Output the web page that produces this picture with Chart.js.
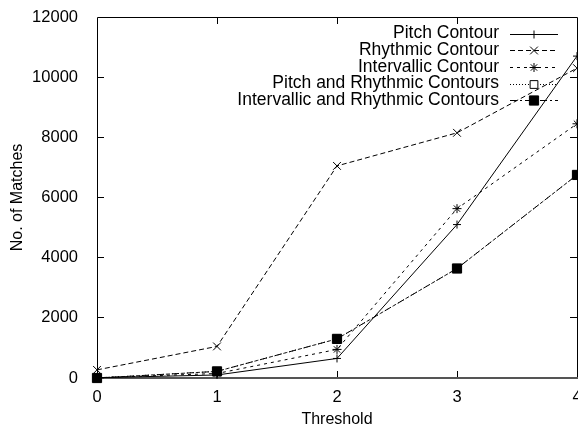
<!DOCTYPE html>
<html>
<head>
<meta charset="utf-8">
<script src="https://cdn.jsdelivr.net/npm/chart.js@4/dist/chart.umd.min.js"></script>
<style>
  html, body { margin: 0; padding: 0; background: #fff; }
  #wrap { width: 578px; height: 427px; }
</style>
</head>
<body>
<div id="wrap"><canvas id="chart" width="578" height="427"></canvas></div>
<script>
// values
const thresholds = [0, 1, 2, 3, 4];
const pitchContour = [10, 100, 650, 5100, 10700];
const rhythmicContour = [270, 1050, 7050, 8150, 10300];
const intervallicContour = [10, 150, 950, 5630, 8450];
const pitchRhythmic = [0, 220, 1300, 3640, 6750];
const intervallicRhythmic = [0, 220, 1300, 3640, 6750];
const seriesNames = [
  'Pitch Contour',
  'Rhythmic Contour',
  'Intervallic Contour',
  'Pitch and Rhythmic Contours',
  'Intervallic and Rhythmic Contours'
];
const yTickValues = [0, 2000, 4000, 6000, 8000, 10000, 12000];

const FONT = "'Liberation Sans', Arial, Helvetica, sans-serif";
const FSIZE = 16.5;
const KEY_SIZE = 17.5;
const TITLE_SIZE = 16;

const toPoints = vals => vals.map((v, i) => ({ x: thresholds[i], y: v }));

// small marker painter for the key (same shapes Chart.js uses)
function drawMarker(ctx, style, x, y, r, fill) {
  ctx.beginPath();
  if (style === 'cross') {
    ctx.moveTo(x - r, y); ctx.lineTo(x + r, y);
    ctx.moveTo(x, y - r); ctx.lineTo(x, y + r);
    ctx.stroke();
  } else if (style === 'crossRot') {
    const d = r * Math.SQRT1_2;
    ctx.moveTo(x - d, y - d); ctx.lineTo(x + d, y + d);
    ctx.moveTo(x - d, y + d); ctx.lineTo(x + d, y - d);
    ctx.stroke();
  } else if (style === 'star') {
    const d = r * Math.SQRT1_2;
    ctx.moveTo(x - r, y); ctx.lineTo(x + r, y);
    ctx.moveTo(x, y - r); ctx.lineTo(x, y + r);
    ctx.moveTo(x - d, y - d); ctx.lineTo(x + d, y + d);
    ctx.moveTo(x - d, y + d); ctx.lineTo(x + d, y - d);
    ctx.stroke();
  } else if (style === 'rect') {
    const s = r * Math.SQRT1_2;
    ctx.rect(x - s, y - s, 2 * s, 2 * s);
    ctx.fillStyle = fill;
    ctx.fill();
    ctx.stroke();
  }
}

// gnuplot style border with inward ticks on all four sides
const frameTicks = {
  id: 'frameTicks',
  beforeDatasetsDraw(chart) {
    const { ctx, chartArea: a, scales: { x, y } } = chart;
    const px = v => Math.floor(v) + 0.5;
    const tick = 7;
    ctx.save();
    ctx.strokeStyle = '#000';
    ctx.lineWidth = 1;
    ctx.beginPath();
    ctx.moveTo(px(a.left), px(a.bottom));
    ctx.lineTo(px(a.left), px(a.top));
    ctx.lineTo(px(a.right), px(a.top));
    ctx.lineTo(px(a.right), px(a.bottom));
    yTickValues.slice(1, -1).forEach(v => {
      const yy = px(y.getPixelForValue(v));
      ctx.moveTo(a.left, yy); ctx.lineTo(a.left + tick, yy);
      ctx.moveTo(a.right, yy); ctx.lineTo(a.right - tick, yy);
    });
    thresholds.slice(1, -1).forEach(v => {
      const xx = px(x.getPixelForValue(v));
      ctx.moveTo(xx, a.bottom); ctx.lineTo(xx, a.bottom - tick);
      ctx.moveTo(xx, a.top); ctx.lineTo(xx, a.top + tick);
    });
    ctx.stroke();
    // bottom edge looks heavier in the original
    ctx.beginPath();
    ctx.strokeStyle = '#555';
    ctx.lineWidth = 2;
    ctx.moveTo(a.left, a.bottom);
    ctx.lineTo(a.right + 1, a.bottom);
    ctx.stroke();
    ctx.restore();
  }
};

// key in the top right corner: text right aligned, line sample on the right
const keyBox = {
  id: 'keyBox',
  afterDatasetsDraw(chart) {
    const { ctx, chartArea: a } = chart;
    const textRight = a.right - 78;
    const lineFrom = a.right - 67;
    const lineTo = a.right - 19;
    const mid = (lineFrom + lineTo) / 2;
    ctx.save();
    ctx.font = KEY_SIZE + 'px ' + FONT;
    ctx.textAlign = 'right';
    ctx.textBaseline = 'middle';
    chart.data.datasets.forEach((ds, i) => {
      const yy = a.top + 16.5 + i * 16.7;
      ctx.fillStyle = '#000';
      ctx.fillText(ds.label, textRight, yy);
      ctx.strokeStyle = '#000';
      ctx.lineWidth = 1;
      ctx.setLineDash(ds.borderDash || []);
      ctx.beginPath();
      ctx.moveTo(lineFrom, Math.round(yy) + 0.5);
      ctx.lineTo(lineTo, Math.round(yy) + 0.5);
      ctx.stroke();
      ctx.setLineDash([]);
      drawMarker(ctx, ds.pointStyle, mid, Math.round(yy) + 0.5, ds.pointRadius, ds.pointBackgroundColor);
    });
    ctx.restore();
  }
};

const baseSet = {
  borderColor: '#000',
  borderWidth: 1,
  pointBorderColor: '#000',
  pointBorderWidth: 1,
  fill: false,
  tension: 0,
  clip: false
};

const ctx = document.getElementById('chart').getContext('2d');
new Chart(ctx, {
  type: 'line',
  data: {
    datasets: [
      { ...baseSet, label: seriesNames[0], data: toPoints(pitchContour),
        borderDash: [], pointStyle: 'cross', pointRadius: 4, pointBackgroundColor: '#000', order: 1 },
      { ...baseSet, label: seriesNames[1], data: toPoints(rhythmicContour),
        borderDash: [5, 3], pointStyle: 'crossRot', pointRadius: 5.5, pointBackgroundColor: '#000', order: 2 },
      { ...baseSet, label: seriesNames[2], data: toPoints(intervallicContour),
        borderDash: [3, 4], pointStyle: 'star', pointRadius: 4.5, pointBackgroundColor: '#000', order: 3 },
      { ...baseSet, label: seriesNames[3], data: toPoints(pitchRhythmic),
        borderDash: [1, 2], pointStyle: 'rect', pointRadius: 5.5, pointBackgroundColor: '#fff', order: 9 },
      { ...baseSet, label: seriesNames[4], data: toPoints(intervallicRhythmic),
        borderDash: [7, 3, 2, 3], pointStyle: 'rect', pointRadius: 6.5, pointBackgroundColor: '#000', order: 5 }
    ]
  },
  options: {
    responsive: false,
    animation: false,
    events: [],
    layout: { autoPadding: false, padding: { top: 17, right: 1, left: 0, bottom: 0 } },
    plugins: {
      legend: { display: false },
      tooltip: { enabled: false }
    },
    scales: {
      x: {
        type: 'linear',
        min: 0,
        max: 4,
        grid: { display: false },
        border: { display: false },
        ticks: { stepSize: 1, color: '#000', padding: 2, maxRotation: 0,
                 font: { family: FONT, size: FSIZE } },
        title: { display: true, text: 'Threshold', color: '#000', padding: { top: 0, bottom: -1 },
                 font: { family: FONT, size: TITLE_SIZE, lineHeight: 1 } },
        afterFit(scale) { scale.height = 49; scale.paddingLeft = 0; scale.paddingRight = 0; }
      },
      y: {
        min: 0,
        max: 12000,
        grid: { display: false },
        border: { display: false },
        ticks: { stepSize: 2000, color: '#000', padding: 11, format: { useGrouping: false },
                 font: { family: FONT, size: FSIZE } },
        title: { display: true, text: 'No. of Matches', color: '#000', padding: { top: 10 },
                 font: { family: FONT, size: TITLE_SIZE, lineHeight: 1 } },
        afterFit(scale) { scale.width = 97; scale.paddingTop = 0; scale.paddingBottom = 0; }
      }
    }
  },
  plugins: [frameTicks, keyBox]
});
</script>
</body>
</html>
